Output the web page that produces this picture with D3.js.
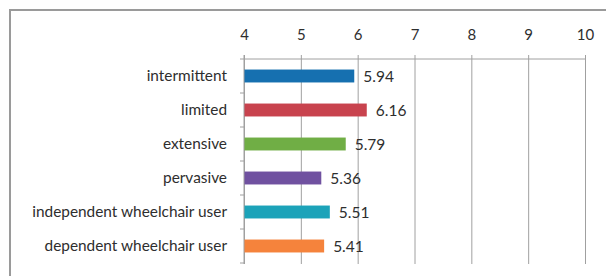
<!DOCTYPE html>
<html>
<head>
    <meta charset="utf-8">
    <style>
        body { margin: 0; background: #fff; }
        text { font-family: Lato, "Open Sans", sans-serif; fill: #2e2e2e; }
        .grid line { stroke: #a0a0a0; stroke-width: 1; }
    </style>
    <script src="https://d3js.org/d3.v7.min.js"></script>
</head>
<body>
    <svg width="606" height="276"></svg>
    <script>
        // chart data
        var categories = ["intermittent", "limited", "extensive", "pervasive",
            "independent wheelchair user", "dependent wheelchair user"];
        var values = [5.94, 6.16, 5.79, 5.36, 5.51, 5.41];
        var colors = ["#1670b0", "#c8434e", "#70ae45", "#7051a0", "#1ca3b9", "#f5833c"];
        var ticks = [4, 5, 6, 7, 8, 9, 10];

        var svg = d3.select("svg");

        // outer frame
        svg.append("rect")
            .attr("x", 10).attr("y", 10)
            .attr("width", 600).attr("height", 280)
            .attr("fill", "#fff")
            .attr("stroke", "#9a9a9a")
            .attr("stroke-width", 2);

        var plotLeft = 244, plotRight = 585, plotTop = 59, plotBottom = 263;

        var x = d3.scaleLinear().domain([4, 10]).range([plotLeft, plotRight]);
        var y = d3.scaleBand().domain(categories).range([plotTop, plotBottom]).paddingInner(0.62).paddingOuter(0.31);

        // vertical gridlines + top tick labels
        var xAxis = svg.append("g")
            .attr("class", "grid")
            .attr("transform", "translate(0," + plotTop + ")")
            .call(d3.axisTop(x).tickValues(ticks).tickSize(4).tickPadding(15).tickFormat(d3.format("d")));
        xAxis.select(".domain").remove();
        xAxis.selectAll(".tick line").attr("y2", plotBottom - plotTop + 1).attr("y1", -4);
        xAxis.selectAll(".tick text").attr("font-size", 15).style("fill", "#2e2e2e");

        // top horizontal line
        svg.append("line")
            .attr("x1", plotLeft).attr("x2", plotRight)
            .attr("y1", plotTop).attr("y2", plotTop)
            .attr("stroke", "#a0a0a0");

        // left axis ticks at band boundaries
        var bounds = categories.map(function (d) { return y(d) - y.step() * y.paddingInner() / 2; });
        bounds.push(plotBottom);
        svg.selectAll(".ytick")
            .data(bounds)
            .enter()
            .append("line")
            .attr("x1", plotLeft - 4).attr("x2", plotLeft)
            .attr("y1", function (d) { return d; })
            .attr("y2", function (d) { return d; })
            .attr("stroke", "#a0a0a0");

        // category labels
        svg.selectAll(".cat")
            .data(categories)
            .enter()
            .append("text")
            .attr("x", 227)
            .attr("y", function (d) { return y(d) + y.bandwidth() / 2; })
            .attr("dy", "0.35em")
            .attr("text-anchor", "end")
            .attr("font-size", 15.4)
            .text(function (d) { return d; });

        // bars
        svg.selectAll(".bar")
            .data(values)
            .enter()
            .append("rect")
            .attr("x", x(4))
            .attr("y", function (d, i) { return y(categories[i]); })
            .attr("width", function (d) { return x(d) - x(4); })
            .attr("height", y.bandwidth())
            .attr("fill", function (d, i) { return colors[i]; });

        // left axis line
        svg.append("line")
            .attr("x1", plotLeft).attr("x2", plotLeft)
            .attr("y1", plotTop - 4).attr("y2", plotBottom + 1)
            .attr("stroke", "#a0a0a0");

        // value labels
        svg.selectAll(".val")
            .data(values)
            .enter()
            .append("text")
            .attr("x", function (d) { return x(d) + 9; })
            .attr("y", function (d, i) { return y(categories[i]) + y.bandwidth() / 2 + 1; })
            .attr("dy", "0.35em")
            .attr("font-size", 15.5)
            .text(function (d) { return d.toFixed(2); });
    </script>
</body>
</html>
